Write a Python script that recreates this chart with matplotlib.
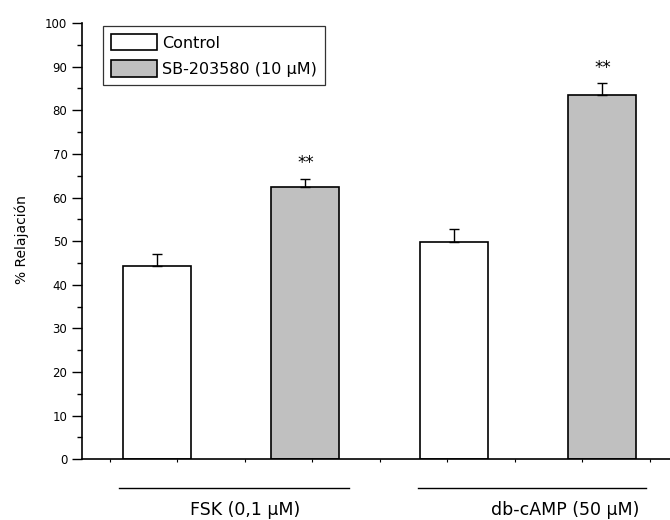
import numpy as np
import matplotlib
matplotlib.use("Agg")
import matplotlib.pyplot as plt
from matplotlib.transforms import blended_transform_factory

plt.rcParams['font.family'] = ['DejaVu Sans']

# Data
groups = ["FSK (0,1 \u00b5M)", "db-cAMP (50 \u00b5M)"]
series = ["Control", "SB-203580 (10 \u00b5M)"]
control_mean = [44.2, 49.9]
control_err = [2.9, 2.85]
sb_mean = [62.4, 83.4]
sb_err = [1.9, 2.8]
significance = ["**", "**"]

fig = plt.figure(figsize=(6.7, 5.2), dpi=100)
ax = fig.add_axes([82/670, 60.7/520, 1 - 82/670, (459.3 - 23)/520])

# bar layout: control/treated pairs side by side
x_ctrl = np.array([1.0, 3.0])
x_sb = np.array([2.0, 4.0])
width = 0.458

ax.bar(x_ctrl, control_mean, width, color="white", edgecolor="black",
       linewidth=1.2, label=series[0], zorder=2)
ax.bar(x_sb, sb_mean, width, color="#c0c0c0", edgecolor="black",
       linewidth=1.2, label=series[1], zorder=2)

# upper error bars only
ax.errorbar(x_ctrl, control_mean, yerr=[np.zeros(2), control_err], fmt="none",
            ecolor="black", elinewidth=1.0, capsize=3.6, capthick=1.0, zorder=3)
ax.errorbar(x_sb, sb_mean, yerr=[np.zeros(2), sb_err], fmt="none",
            ecolor="black", elinewidth=1.0, capsize=3.6, capthick=1.0, zorder=3)

for xi, m, e, s in zip(x_sb, sb_mean, sb_err, significance):
    ax.text(xi, m + e + 3.6, s, ha="center", va="center", fontsize=12)

ax.set_xlim(0.495, 4.455)
ax.set_ylim(0, 100)

ax.spines["top"].set_visible(False)
ax.spines["right"].set_visible(False)
ax.spines["left"].set_linewidth(1.2)
ax.spines["bottom"].set_linewidth(1.2)

ax.set_yticks(np.arange(0, 101, 10))
ax.set_yticks(np.arange(5, 100, 10), minor=True)
ax.tick_params(axis="y", which="major", length=7, width=1.0, direction="out",
               labelsize=8.5, pad=3.5)
ax.tick_params(axis="y", which="minor", length=3.5, width=1.0, direction="out")

ax.set_xticks([])
ax.set_xticks(np.arange(0.6835, 4.455, 0.4545), minor=True)
ax.tick_params(axis="x", which="minor", length=2.5, width=0.8, direction="out")

ax.set_ylabel("% Relajaci\u00f3n", fontsize=10, va="center")
ax.yaxis.set_label_coords(-0.102, 0.503)

# group brackets and labels beneath the axis
trans = blended_transform_factory(ax.transData, fig.transFigure)
spans = [(0.744, 2.293), (2.758, 4.293)]
label_x = [1.593, 3.747]
for (x0, x1), lx, g in zip(spans, label_x, groups):
    ax.plot([x0, x1], [1 - 487.5/520] * 2, transform=trans, color="black",
            linewidth=1.0, clip_on=False)
    ax.text(lx, 1 - 510/520, g, transform=trans, ha="center", va="center",
            fontsize=12.5)

leg = ax.legend(loc="upper left", bbox_to_anchor=(103/670, 1 - 26/520),
                bbox_transform=fig.transFigure, borderaxespad=0,
                fontsize=11.5, handlelength=2.9, handleheight=1.2,
                handletextpad=0.3, labelspacing=0.6, borderpad=0.5,
                fancybox=False, framealpha=1)
leg.get_frame().set_edgecolor("#333333")
leg.get_frame().set_linewidth(0.9)

fig.savefig("out.png", dpi=100)
